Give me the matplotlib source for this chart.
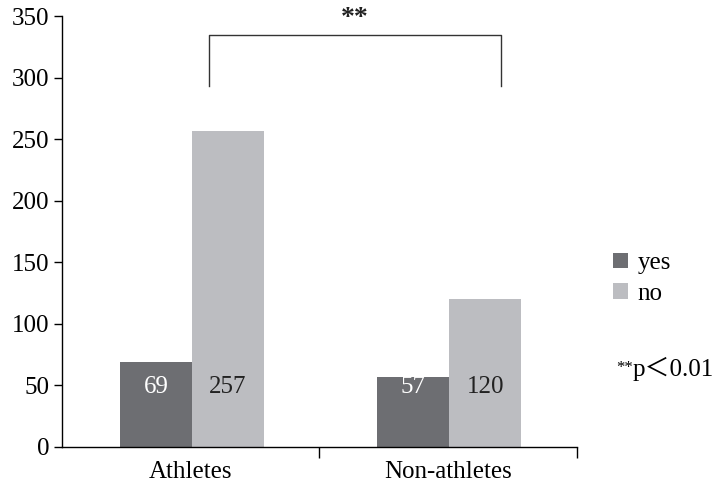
import matplotlib.pyplot as plt
import numpy as np

# data
groups = ["Athletes", "Non-athletes"]
yes_counts = [69, 57]
no_counts = [257, 120]
series_names = ["yes", "no"]

plt.rcParams["font.family"] = ["Liberation Serif", "Noto Sans CJK JP", "DejaVu Sans"]

fig = plt.figure(figsize=(7.21, 4.9), dpi=100)
ax = fig.add_axes([0.086, 0.088, 0.714, 0.879])

x = np.arange(len(groups))
w = 0.28
shift = 0.005
b_yes = ax.bar(x - w / 2 + shift, yes_counts, w, color="#6d6e72", label=series_names[0])
b_no = ax.bar(x + w / 2 + shift, no_counts, w, color="#bcbdc1", label=series_names[1])

# value labels inside the bars
for rect, v in zip(b_yes, yes_counts):
    ax.text(rect.get_x() + rect.get_width() / 2, 49, str(v), ha="center", va="center",
            fontsize=18, color="white")
for rect, v in zip(b_no, no_counts):
    ax.text(rect.get_x() + rect.get_width() / 2, 49, str(v), ha="center", va="center",
            fontsize=18, color="#222222")

ax.set_xlim(-0.5, 1.5)
ax.set_ylim(0, 350)
ax.set_yticks(np.arange(0, 351, 50))
ax.set_xticks(x)
ax.set_xticklabels(groups)
ax.set_xticks([0.5, 1.5], minor=True)
ax.tick_params(axis="x", which="major", length=0, pad=10, labelsize=18)
ax.tick_params(axis="x", which="minor", length=8, width=1, direction="out")
ax.tick_params(axis="y", length=6, width=1, direction="out", labelsize=18, pad=3)

for s in ["top", "right"]:
    ax.spines[s].set_visible(False)
ax.spines["left"].set_linewidth(1)
ax.spines["bottom"].set_linewidth(1)

# significance bracket
bx0, bx1 = 0.07, 1.205
ax.plot([bx0, bx0, bx1, bx1], [293, 335, 335, 293], color="#333333", lw=1, clip_on=False)
ax.text((bx0 + bx1) / 2, 338, "**", ha="center", va="bottom", fontsize=20,
        fontweight="bold", color="#222222", clip_on=False)

ax.legend(loc="upper left", bbox_to_anchor=(1.05, 0.475), frameon=False, fontsize=18,
          handlelength=0.6, handleheight=0.6, handletextpad=0.4, labelspacing=0.35,
          borderaxespad=0)

fig.text(0.855, 0.248, "**", fontsize=12, ha="left", va="center")
fig.text(0.878, 0.248, "p＜0.01", fontsize=18, ha="left", va="center")

plt.savefig("out.png", dpi=100)
